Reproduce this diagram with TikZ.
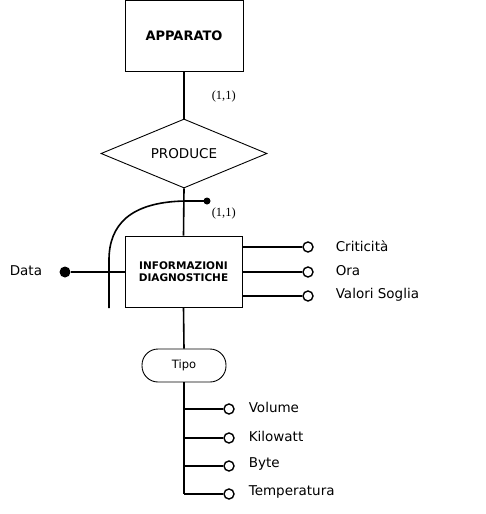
\documentclass[tikz,border=0pt]{standalone}
\usepackage{fontspec}
\setmainfont{DejaVu Sans}
\newfontfamily\cardfont{Liberation Serif}
\usetikzlibrary{shapes.geometric}
\begin{document}
\begin{tikzpicture}[x=1pt,y=-1pt,line width=1.6pt,
  entity/.style={draw,line width=0.9pt,inner sep=0pt,fill=white},
  attr/.style={draw,circle,line width=1.4pt,minimum size=10pt,inner sep=0pt,fill=white},
  attrlabel/.style={anchor=west,inner sep=0pt,font=\fontsize{13.5}{15}\selectfont},
  card/.style={anchor=west,inner sep=0pt,font=\cardfont\fontsize{12.5}{14}\selectfont}]
\useasboundingbox (0,0) rectangle (486,514);
\fill[white] (0,0) rectangle (486,514);
% entities
\node[entity,minimum width=118pt,minimum height=71pt,font=\bfseries\fontsize{13}{15}\selectfont] (app) at (184,35.5) {APPARATO};
\node[entity,diamond,aspect=2.4,minimum width=166pt,minimum height=69pt,font=\fontsize{13.5}{15}\selectfont] (prod) at (184,153.5) {PRODUCE};
\node[entity,minimum width=117pt,minimum height=71pt,align=center,font=\bfseries\fontsize{10.5}{12.5}\selectfont] (info) at (183.5,271.5) {INFORMAZIONI\\DIAGNOSTICHE};
\node[entity,rounded corners=16pt,minimum width=84pt,minimum height=33pt,font=\fontsize{11.5}{13}\selectfont] (tipo) at (184,365.5) {Tipo};
% main connectors
\draw (app.south) -- (prod.north);
\draw (prod.south) -- (info.north);
\draw (info.south) -- (tipo.north);
\coordinate (tend) at (184,494);
\draw (tipo.south) -- (tend);
% cardinalities
\node[card] (c1) at (211,96) {(1,1)};
\node[card] (c2) at (211,213) {(1,1)};
% identifier curve
\node[circle,fill,inner sep=0pt,minimum size=7pt] (iddot) at (207,201) {};
\coordinate (idend) at (109,308);
\draw (iddot.center) -- (185,201) .. controls (130,202) and (109,225) .. (109,260) -- (idend);
% Data (identifier attribute)
\node[circle,fill,inner sep=0pt,minimum size=11pt] (datadot) at (65,272) {};
\draw (datadot) -- (info.west |- datadot);
\node[attrlabel] (datalbl) at (9,271) {Data};
% right attributes
\foreach \n/\y/\t in {a1/247/Criticità,a2/272/Ora,a3/296/Valori Soglia}{
  \node[attr] (\n) at (308,\y) {};
  \draw (info.east |- \n) -- (\n);
  \node[attrlabel] at (335,\y-1) {\t};
}
% Tipo subtypes
\foreach \n/\y/\t in {b1/409/Volume,b2/438/Kilowatt,b3/466/Byte,b4/494/Temperatura}{
  \node[attr] (\n) at (229,\y) {};
  \coordinate (\n s) at (184,\y);
  \draw (\n s) -- (\n);
  \node[attrlabel] at (248,\y-2) {\t};
}
\end{tikzpicture}
\end{document}
